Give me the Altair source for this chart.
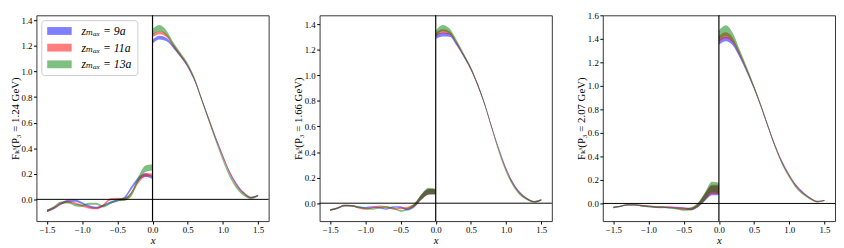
import altair as alt
import pandas as pd

X_LEFT = [-1.5, -1.4, -1.3, -1.2, -1.1, -1.0, -0.9, -0.8, -0.7, -0.6, -0.5, -0.4, -0.3, -0.2, -0.1, 0.0]
X_RIGHT = [0.0, 0.1, 0.2, 0.3, 0.4, 0.5, 0.6, 0.7, 0.8, 0.9, 1.0, 1.1, 1.2, 1.3, 1.4, 1.5]
SERIES = ["zₘₐₓ = 9a", "zₘₐₓ = 11a", "zₘₐₓ = 13a"]
COLORS = ["#0000ff", "#ff0000", "#008000"]
P3_VALUES = ["1.24", "1.66", "2.07"]
Y_DOMAINS = [[-0.17, 1.44], [-0.14, 1.47], [-0.15, 1.6]]
Y_TICKS = [[0.0, 0.2, 0.4, 0.6, 0.8, 1.0, 1.2, 1.4],
           [0.0, 0.2, 0.4, 0.6, 0.8, 1.0, 1.2, 1.4],
           [0.0, 0.2, 0.4, 0.6, 0.8, 1.0, 1.2, 1.4, 1.6]]
X_TICKS = [-1.5, -1.0, -0.5, 0.0, 0.5, 1.0, 1.5]

# ---- panel 1 (P3 = 1.24 GeV): band centres ----
P1_L_BLUE = [-0.09, -0.07, -0.035, -0.012, -0.01, -0.03, -0.055, -0.065, -0.05, -0.025, -0.01, 0.01, 0.09, 0.16, 0.19, 0.17]
P1_L_RED = [-0.09, -0.065, -0.03, -0.018, -0.03, -0.05, -0.065, -0.07, -0.045, 0.0, 0.005, 0.0, 0.05, 0.14, 0.19, 0.19]
P1_L_GREEN = [-0.09, -0.06, -0.025, -0.025, -0.045, -0.05, -0.035, -0.035, -0.055, -0.03, -0.005, 0.0, 0.04, 0.16, 0.24, 0.25]
P1_R_BLUE = [1.235, 1.265, 1.25, 1.19, 1.12, 1.04, 0.93, 0.78, 0.63, 0.48, 0.34, 0.21, 0.115, 0.05, 0.015, 0.03]
P1_R_RED = [1.28, 1.305, 1.28, 1.2, 1.125, 1.045, 0.93, 0.775, 0.62, 0.47, 0.33, 0.2, 0.105, 0.045, 0.012, 0.03]
P1_R_GREEN = [1.31, 1.34, 1.30, 1.21, 1.135, 1.055, 0.94, 0.78, 0.62, 0.46, 0.31, 0.18, 0.09, 0.035, 0.01, 0.03]
# half widths
P1_HW_L_BLUE = [0.008, 0.008, 0.008, 0.008, 0.008, 0.008, 0.008, 0.008, 0.008, 0.008, 0.008, 0.01, 0.012, 0.014, 0.014, 0.012]
P1_HW_L_RED = [0.008, 0.008, 0.008, 0.008, 0.008, 0.008, 0.008, 0.008, 0.008, 0.008, 0.008, 0.01, 0.012, 0.014, 0.014, 0.012]
P1_HW_L_GREEN = [0.008, 0.008, 0.008, 0.008, 0.008, 0.008, 0.008, 0.008, 0.008, 0.008, 0.008, 0.01, 0.015, 0.02, 0.025, 0.025]
P1_HW_R_BLUE = [0.015, 0.015, 0.013, 0.011, 0.01, 0.01, 0.01, 0.01, 0.01, 0.01, 0.01, 0.009, 0.008, 0.007, 0.006, 0.006]
P1_HW_R_RED = [0.012, 0.013, 0.012, 0.011, 0.01, 0.01, 0.01, 0.01, 0.01, 0.01, 0.01, 0.009, 0.008, 0.007, 0.006, 0.006]
P1_HW_R_GREEN = [0.025, 0.025, 0.02, 0.015, 0.013, 0.012, 0.012, 0.012, 0.012, 0.012, 0.012, 0.011, 0.01, 0.008, 0.006, 0.006]

# ---- panel 2 (P3 = 1.66 GeV) ----
P2_L_BLUE = [-0.053, -0.04, -0.02, -0.02, -0.03, -0.035, -0.03, -0.035, -0.045, -0.03, -0.03, -0.05, -0.02, 0.05, 0.09, 0.09]
P2_L_RED = [-0.053, -0.04, -0.018, -0.02, -0.035, -0.045, -0.035, -0.025, -0.03, -0.045, -0.04, -0.035, -0.015, 0.05, 0.09, 0.09]
P2_L_GREEN = [-0.053, -0.04, -0.018, -0.02, -0.03, -0.04, -0.045, -0.035, -0.03, -0.04, -0.06, -0.045, -0.01, 0.05, 0.095, 0.09]
P2_R_BLUE = [1.30, 1.32, 1.315, 1.24, 1.15, 1.05, 0.92, 0.77, 0.59, 0.42, 0.27, 0.155, 0.08, 0.035, 0.012, 0.025]
P2_R_RED = [1.32, 1.345, 1.33, 1.25, 1.155, 1.05, 0.92, 0.765, 0.585, 0.41, 0.26, 0.15, 0.075, 0.033, 0.012, 0.025]
P2_R_GREEN = [1.33, 1.37, 1.345, 1.26, 1.16, 1.055, 0.925, 0.765, 0.58, 0.40, 0.25, 0.14, 0.068, 0.03, 0.01, 0.025]
P2_HW_L_BLUE = [0.006, 0.006, 0.006, 0.006, 0.006, 0.006, 0.006, 0.006, 0.006, 0.006, 0.007, 0.008, 0.012, 0.02, 0.022, 0.02]
P2_HW_L_RED = [0.006, 0.006, 0.006, 0.006, 0.006, 0.006, 0.006, 0.006, 0.006, 0.006, 0.007, 0.008, 0.012, 0.02, 0.022, 0.02]
P2_HW_L_GREEN = [0.006, 0.006, 0.006, 0.006, 0.006, 0.006, 0.006, 0.006, 0.006, 0.006, 0.007, 0.008, 0.012, 0.022, 0.025, 0.022]
P2_HW_R_BLUE = [0.015, 0.015, 0.013, 0.011, 0.01, 0.01, 0.01, 0.009, 0.009, 0.009, 0.009, 0.008, 0.007, 0.006, 0.005, 0.005]
P2_HW_R_RED = [0.015, 0.015, 0.013, 0.011, 0.01, 0.01, 0.01, 0.009, 0.009, 0.009, 0.009, 0.008, 0.007, 0.006, 0.005, 0.005]
P2_HW_R_GREEN = [0.022, 0.025, 0.02, 0.015, 0.012, 0.011, 0.01, 0.01, 0.01, 0.01, 0.01, 0.009, 0.008, 0.006, 0.005, 0.005]

# ---- panel 3 (P3 = 2.07 GeV) ----
P3_L_BLUE = [-0.035, -0.025, -0.012, -0.012, -0.02, -0.025, -0.03, -0.03, -0.035, -0.035, -0.04, -0.05, -0.02, 0.05, 0.11, 0.11]
P3_L_RED = [-0.035, -0.025, -0.012, -0.012, -0.018, -0.022, -0.03, -0.035, -0.03, -0.04, -0.045, -0.045, -0.015, 0.055, 0.12, 0.12]
P3_L_GREEN = [-0.035, -0.025, -0.012, -0.012, -0.02, -0.028, -0.032, -0.03, -0.04, -0.045, -0.055, -0.045, -0.01, 0.06, 0.14, 0.13]
P3_R_BLUE = [1.37, 1.40, 1.36, 1.25, 1.12, 0.98, 0.82, 0.65, 0.49, 0.35, 0.24, 0.15, 0.09, 0.045, 0.018, 0.025]
P3_R_RED = [1.40, 1.43, 1.385, 1.265, 1.13, 0.985, 0.825, 0.65, 0.485, 0.345, 0.235, 0.145, 0.085, 0.042, 0.016, 0.025]
P3_R_GREEN = [1.43, 1.47, 1.41, 1.28, 1.14, 0.99, 0.83, 0.655, 0.48, 0.335, 0.225, 0.135, 0.078, 0.038, 0.014, 0.025]
P3_HW_L_BLUE = [0.006, 0.006, 0.006, 0.006, 0.006, 0.006, 0.006, 0.006, 0.006, 0.007, 0.008, 0.01, 0.015, 0.03, 0.04, 0.04]
P3_HW_L_RED = [0.006, 0.006, 0.006, 0.006, 0.006, 0.006, 0.006, 0.006, 0.006, 0.007, 0.008, 0.01, 0.015, 0.03, 0.04, 0.04]
P3_HW_L_GREEN = [0.006, 0.006, 0.006, 0.006, 0.006, 0.006, 0.006, 0.006, 0.006, 0.007, 0.008, 0.01, 0.015, 0.032, 0.045, 0.045]
P3_HW_R_BLUE = [0.02, 0.02, 0.018, 0.015, 0.012, 0.011, 0.01, 0.01, 0.01, 0.01, 0.009, 0.008, 0.007, 0.006, 0.005, 0.005]
P3_HW_R_RED = [0.025, 0.025, 0.02, 0.016, 0.013, 0.012, 0.011, 0.01, 0.01, 0.01, 0.009, 0.008, 0.007, 0.006, 0.005, 0.005]
P3_HW_R_GREEN = [0.04, 0.045, 0.035, 0.022, 0.016, 0.014, 0.012, 0.011, 0.011, 0.01, 0.009, 0.008, 0.007, 0.006, 0.005, 0.005]

PANELS = [
    [(P1_L_BLUE, P1_HW_L_BLUE, P1_R_BLUE, P1_HW_R_BLUE),
     (P1_L_RED, P1_HW_L_RED, P1_R_RED, P1_HW_R_RED),
     (P1_L_GREEN, P1_HW_L_GREEN, P1_R_GREEN, P1_HW_R_GREEN)],
    [(P2_L_BLUE, P2_HW_L_BLUE, P2_R_BLUE, P2_HW_R_BLUE),
     (P2_L_RED, P2_HW_L_RED, P2_R_RED, P2_HW_R_RED),
     (P2_L_GREEN, P2_HW_L_GREEN, P2_R_GREEN, P2_HW_R_GREEN)],
    [(P3_L_BLUE, P3_HW_L_BLUE, P3_R_BLUE, P3_HW_R_BLUE),
     (P3_L_RED, P3_HW_L_RED, P3_R_RED, P3_HW_R_RED),
     (P3_L_GREEN, P3_HW_L_GREEN, P3_R_GREEN, P3_HW_R_GREEN)],
]

FONT = "'Liberation Serif', 'Times New Roman', 'DejaVu Serif', serif"


def panel_frame(i):
    rows = []
    for s, (lc, lh, rc, rh) in enumerate(PANELS[i]):
        for xs, cs, hs, seg in ((X_LEFT, lc, lh, "L"), (X_RIGHT, rc, rh, "R")):
            for x, c, h in zip(xs, cs, hs):
                rows.append({"series": SERIES[s], "seg": seg, "order": s,
                             "x": x, "lo": c - h, "hi": c + h})
    return pd.DataFrame(rows)


def make_panel(i):
    d = panel_frame(i)
    xscale = alt.Scale(domain=[-1.65, 1.65], nice=False, zero=False)
    yscale = alt.Scale(domain=Y_DOMAINS[i], nice=False, zero=False)
    xaxis = alt.Axis(values=X_TICKS, format=".1f", title="x",
                     titleFontStyle="italic", labelOverlap=False)
    yaxis = alt.Axis(values=Y_TICKS[i], format=".1f", labelOverlap=False,
                     title="Fₖˢ(P₃ = " + P3_VALUES[i] + " GeV)")
    if i == 0:
        legend = alt.Legend(
            orient="top-left", offset=5, title=None,
            symbolType="M-1,-0.8H4V0.8H-1Z", symbolSize=100,
            symbolOpacity=0.5, symbolStrokeWidth=0,
            labelFont=FONT, labelFontStyle="italic", labelFontSize=12,
            labelColor="black", labelOffset=24, rowPadding=5,
            padding=5, strokeColor="#cccccc", fillColor="white",
            cornerRadius=3,
        )
    else:
        legend = None
    area = alt.Chart(d).mark_area(
        fillOpacity=0.5, interpolate="monotone", strokeWidth=0
    ).encode(
        x=alt.X("x:Q", scale=xscale, axis=xaxis),
        y=alt.Y("lo:Q", scale=yscale, axis=yaxis),
        y2="hi:Q",
        color=alt.Color("series:N",
                        scale=alt.Scale(domain=SERIES, range=COLORS),
                        legend=legend),
        detail="seg:N",
        order="order:Q",
    )
    one = pd.DataFrame({"z": [0]})
    hline = alt.Chart(one).mark_rule(color="black", strokeWidth=1).encode(
        y=alt.YDatum(0, scale=yscale, axis=yaxis))
    vline = alt.Chart(one).mark_rule(color="black", strokeWidth=1.2).encode(
        x=alt.XDatum(0, scale=xscale, axis=xaxis))
    return alt.layer(area, hline, vline).properties(width=237, height=210)


chart = alt.hconcat(
    make_panel(0), make_panel(1), make_panel(2), spacing=22
).resolve_legend(
    color="independent"
).resolve_scale(
    color="independent"
).properties(
    padding={"left": 0, "top": 0, "right": 0, "bottom": 0}
).configure_view(
    stroke="#333333", strokeWidth=1
).configure_axis(
    grid=False, domain=False,
    labelFont=FONT, titleFont=FONT,
    labelFontSize=9, titleFontSize=11, titleFontWeight="normal",
    labelColor="black", titleColor="black",
    tickColor="black", tickSize=3, labelPadding=1.5,
).configure_axisY(
    titlePadding=1
).configure_axisX(
    titlePadding=0
)

chart.save("out.html", embed_options={"renderer": "svg", "actions": False})
